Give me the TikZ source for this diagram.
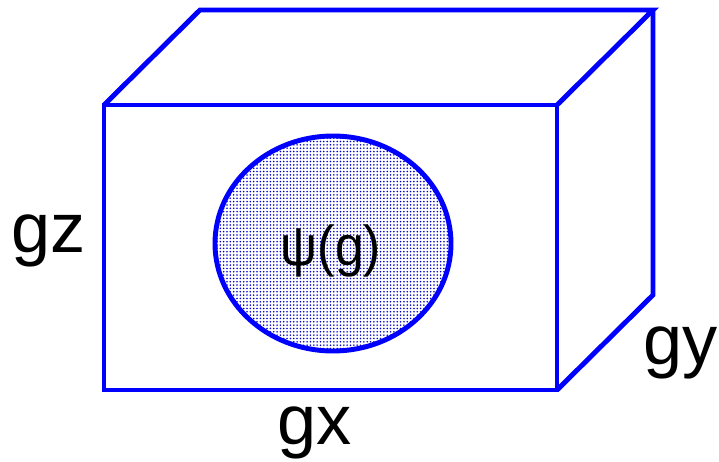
\documentclass[tikz,border=0pt]{standalone}
\usepackage{fontspec}
\setmainfont{Liberation Sans}
\usetikzlibrary{patterns.meta}
\definecolor{boxblue}{RGB}{0,0,255}

\begin{document}
\begin{tikzpicture}[x=0.02cm, y=-0.02cm, line join=miter,
    edge/.style={draw=boxblue, line width=2.8pt},
    axislabel/.style={font=\fontsize{40}{44}\selectfont, anchor=base, inner sep=0pt},
    blob/.style={edge, pattern={Dots[radius=0.5pt, distance=1.9pt]}, pattern color=boxblue!80!black}]
    \useasboundingbox (0,0) rectangle (719,462);
    % front face, top and side of the box
    \coordinate (fa) at (104,105);
    \coordinate (fb) at (557,105);
    \coordinate (fc) at (557,390);
    \coordinate (fd) at (104,390);
    \coordinate (ba) at (200,10);
    \coordinate (bb) at (653,10);
    \coordinate (bc) at (653,295);
    \draw[edge] (fa) -- (fb) -- (fc) -- (fd) -- cycle;
    \draw[edge] (fa) -- (ba) -- (bb) -- (fb);
    \draw[edge] (bb) -- (bc) -- (fc);
    % the density blob
    \draw[blob] (333,243.5) ellipse [x radius=118, y radius=107.5];
    \node[anchor=base, inner sep=0pt, font=\fontsize{32}{36}\selectfont, xscale=0.92] (psi) at (331,265) {ψ(g)};
    \node[axislabel] (gz) at (49,253) {gz};
    \node[axislabel] (gx) at (315,444) {gx};
    \node[axislabel] (gy) at (681,364) {gy};
\end{tikzpicture}
\end{document}
